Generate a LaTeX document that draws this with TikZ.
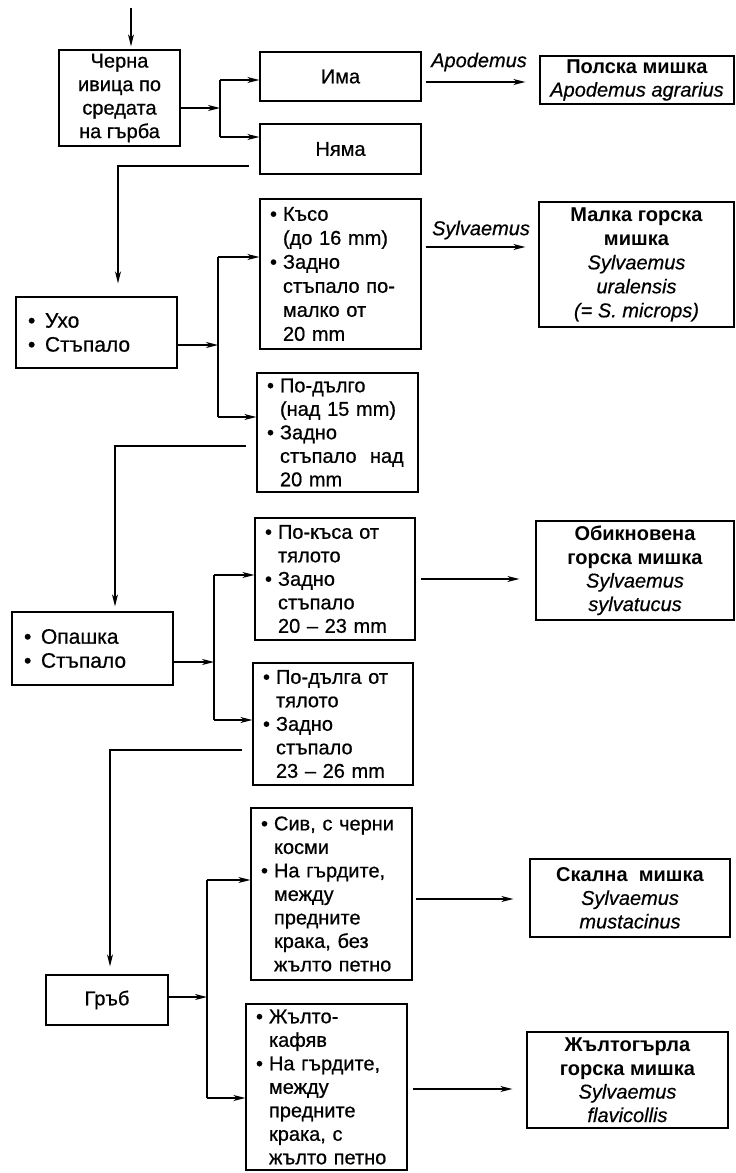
\documentclass[tikz,border=0pt]{standalone}
\usepackage{fontspec}
\setmainfont{Liberation Sans}[UprightFeatures={FakeBold=0.6},ItalicFeatures={FakeBold=0.5}]
\usetikzlibrary{arrows.meta}
\newcommand{\bu}[1]{\makebox[13pt][l]{•}#1}
\newcommand{\cn}[1]{\hspace*{13pt}#1}
\newcommand{\bL}[1]{\makebox[17pt][l]{•}#1}
\tikzset{
  every node/.style={font=\fontsize{20}{23.5}\selectfont},
  box/.style={draw, line width=1.3pt, inner ysep=0pt},
  cbox/.style 2 args={box, minimum width=#1, minimum height=#2, align=center},
  lbox/.style n args={4}{box, minimum width=#1, minimum height=#2, inner xsep=#3, text width=#4, align=left},
  bigtext/.style={font=\fontsize{21}{24}\selectfont},
  arr/.style={line width=1.3pt, -{Stealth[length=12pt,width=6pt,inset=3.5pt]}},
  ln/.style={line width=1.3pt},
  lab/.style={font=\fontsize{20}{23.5}\selectfont\itshape, inner sep=0pt}
}
\begin{document}
\begin{tikzpicture}[x=1pt,y=-1pt]
\useasboundingbox (0,0) rectangle (736,1173);
\fill[white] (0,0) rectangle (736,1173);

% boxes
\node[cbox={121pt}{96pt}] (b1) at (119.5,98) {Черна\\ивица по\\средата\\на гърба};
\node[cbox={161pt}{49pt}] (ima) at (340.5,76.5) {Има};
\node[cbox={161pt}{50pt}] (nyama) at (340.5,149) {Няма};
\node[cbox={194pt}{48pt}] (polska) at (637,80) {\textbf{Полска мишка}\\\textit{Apodemus agrarius}};

\node[lbox={161pt}{150pt}{10pt}{141pt}, font=\fontsize{20}{24}\selectfont] (kaso) at (340.5,274)
  {\bu{Късо}\\\cn{(до~16~mm)}\\\bu{Задно}\\\cn{стъпало~по-}\\\cn{малко~от}\\\cn{20~mm}};
\node[cbox={195pt}{125pt}, font=\fontsize{20}{24}\selectfont] (malka) at (636.5,264.5)
  {\textbf{Малка горска}\\\textbf{мишка}\\\textit{Sylvaemus}\\\textit{uralensis}\\\textit{(= S. microps)}};
\node[lbox={161pt}{71pt}{12pt}{137pt}, bigtext] (uho) at (96.5,332.5) {\bL{Ухо}\\\bL{Стъпало}};
\node[lbox={161pt}{119pt}{10pt}{141pt}] (podalgo) at (337.5,432.5)
  {\bu{По-дълго}\\\cn{(над~15~mm)}\\\bu{Задно}\\\cn{стъпало~~над}\\\cn{20~mm}};

\node[lbox={160pt}{122pt}{10pt}{140pt}] (pokasa) at (335,579)
  {\bu{По-къса~от}\\\cn{тялото}\\\bu{Задно}\\\cn{стъпало}\\\cn{20~–~23~mm}};
\node[cbox={198pt}{99pt}] (obikn) at (635,570.5)
  {\textbf{Обикновена}\\\textbf{горска мишка}\\\textit{Sylvaemus}\\\textit{sylvatucus}};
\node[lbox={161pt}{73pt}{12pt}{137pt}, bigtext] (opashka) at (92.5,648.5) {\bL{Опашка}\\\bL{Стъпало}};
\node[lbox={160pt}{122pt}{10pt}{140pt}] (podalga) at (333,724)
  {\bu{По-дълга~от}\\\cn{тялото}\\\bu{Задно}\\\cn{стъпало}\\\cn{23~–~26~mm}};

\node[lbox={161pt}{172pt}{10pt}{141pt}] (siv) at (331.5,894)
  {\bu{Сив,~с~черни}\\\cn{косми}\\\bu{На~гърдите,}\\\cn{между}\\\cn{предните}\\\cn{крака,~без}\\\cn{жълто~петно}};
\node[cbox={200pt}{78pt}] (skalna) at (630,898)
  {\textbf{Скална~~мишка}\\\textit{Sylvaemus}\\\textit{mustacinus}};
\node[cbox={122pt}{50pt}] (grab) at (107,1000) {Гръб};
\node[lbox={161pt}{166pt}{10pt}{141pt}] (zhalto) at (326.5,1087)
  {\bu{Жълто-}\\\cn{кафяв}\\\bu{На~гърдите,}\\\cn{между}\\\cn{предните}\\\cn{крака,~с}\\\cn{жълто~петно}};
\node[cbox={201pt}{96pt}] (zhg) at (627.5,1080)
  {\textbf{Жълтогърла}\\\textbf{горска мишка}\\\textit{Sylvaemus}\\\textit{flavicollis}};

% labels
\node[lab] (lapo) at (479,62) {Apodemus};
\node[lab] (lsyl) at (481,230) {Sylvaemus};

% top entry arrow
\coordinate (top) at (131,8);
\draw[arr, shorten >=3pt] (top) -- (top |- b1.north);

% level 1
\coordinate (j1) at (220,108);
\coordinate (j1a) at (220,80);
\coordinate (j1b) at (220,137);
\draw[arr] (j1 -| b1.east) -- (j1);
\draw[ln] (j1a) -- (j1b);
\draw[arr] (j1a) -- (j1a -| ima.west);
\draw[arr] (j1b) -- (j1b -| nyama.west);
\coordinate (a1) at (0,82);
\draw[arr, shorten <=4pt, shorten >=14pt] (a1 -| ima.east) -- (a1 -| polska.west);

\coordinate (c1s) at (249,166);
\coordinate (c1) at (118,166);
\draw[arr, shorten >=13pt] (c1s) -- (c1) -- (c1 |- uho.north);

% level 2
\coordinate (a2) at (0,247);
\draw[arr, shorten <=4pt, shorten >=13pt] (a2 -| kaso.east) -- (a2 -| malka.west);
\coordinate (j2) at (218,345);
\coordinate (j2a) at (218,257);
\coordinate (j2b) at (218,417);
\draw[arr] (j2 -| uho.east) -- (j2);
\draw[ln] (j2a) -- (j2b);
\draw[arr] (j2a) -- (j2a -| kaso.west);
\draw[arr] (j2b) -- (j2b -| podalgo.west);

\coordinate (c2s) at (246,446);
\coordinate (c2) at (115,446);
\draw[arr, shorten >=5pt] (c2s) -- (c2) -- (c2 |- opashka.north);

% level 3
\coordinate (a3) at (0,579);
\draw[arr, shorten <=5pt, shorten >=16pt] (a3 -| pokasa.east) -- (a3 -| obikn.west);
\coordinate (j3) at (214,662);
\coordinate (j3a) at (214,575);
\coordinate (j3b) at (214,720);
\draw[arr] (j3 -| opashka.east) -- (j3);
\draw[ln] (j3a) -- (j3b);
\draw[arr] (j3a) -- (j3a -| pokasa.west);
\draw[arr] (j3b) -- (j3b -| podalga.west);

\coordinate (c3s) at (242,750);
\coordinate (c3) at (110,750);
\draw[arr, shorten >=8pt] (c3s) -- (c3) -- (c3 |- grab.north);

% level 4
\coordinate (a4) at (0,899);
\draw[arr, shorten <=3pt, shorten >=16pt] (a4 -| siv.east) -- (a4 -| skalna.west);
\coordinate (j4) at (207,997);
\coordinate (j4a) at (207,880);
\coordinate (j4b) at (207,1098);
\draw[arr] (j4 -| grab.east) -- (j4);
\draw[ln] (j4a) -- (j4b);
\draw[arr] (j4a) -- (j4a -| siv.west);
\draw[arr] (j4b) -- (j4b -| zhalto.west);
\coordinate (a5) at (0,1089);
\draw[arr, shorten <=5pt, shorten >=14pt] (a5 -| zhalto.east) -- (a5 -| zhg.west);
\end{tikzpicture}
\end{document}
